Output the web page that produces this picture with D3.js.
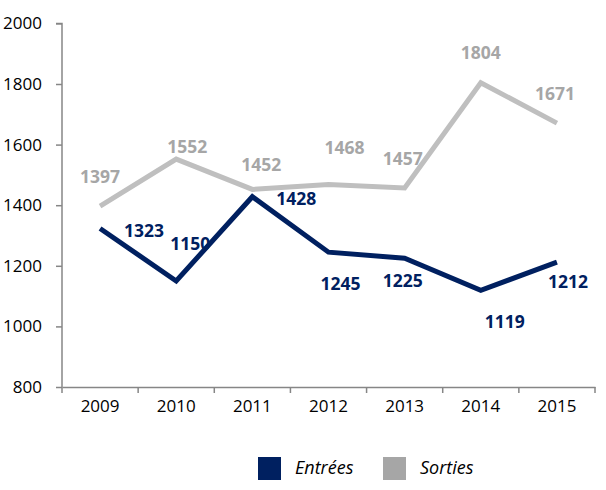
<!DOCTYPE html>
<html><head><meta charset="utf-8">
<script src="https://cdn.jsdelivr.net/npm/d3@7"></script>
<style>body{margin:0;background:#fff}svg{display:block}</style>
</head><body>
<svg id="c" width="606" height="490"></svg>
<script>
const years = ["2009","2010","2011","2012","2013","2014","2015"];
const entrees = [1323,1150,1428,1245,1225,1119,1212];
const sorties = [1397,1552,1452,1468,1457,1804,1671];
const yTicks = [800,1000,1200,1400,1600,1800,2000];
const seriesNames = ["Entrées","Sorties"];
// label offsets (dx, dy) relative to each point
const entLabelOff = [[44,1],[14,-38],[44,1],[12,31],[-2,22],[24,31],[11,19]];
const sorLabelOff = [[0,-30],[11,-13],[9,-25],[16,-38],[-2,-30],[0,-31],[-2,-30]];

const svg = d3.select("#c");
const font = "'Open Sans', sans-serif";
const x = d3.scaleBand().domain(years).range([62,595]);
const y = d3.scaleLinear().domain([800,2000]).range([387,23.4]);
const axisCol = "#868686";

const gy = svg.append("g").attr("transform","translate(62,0)")
  .call(d3.axisLeft(y).tickValues(yTicks).tickSize(6).tickPadding(14).tickFormat(d3.format("d")));
const gx = svg.append("g").attr("transform","translate(0,387)")
  .call(d3.axisBottom(x).tickSize(0).tickPadding(13));
gx.selectAll(".sep").data(d3.range(years.length+1)).enter().append("line")
  .attr("x1",i=>62+i*x.step()).attr("x2",i=>62+i*x.step()).attr("y1",0).attr("y2",6)
  .attr("stroke",axisCol).attr("stroke-width",1.5);
[gx,gy].forEach(g=>{
  g.select(".domain").attr("stroke",axisCol).attr("stroke-width",1.5);
  g.selectAll(".tick line").attr("stroke",axisCol).attr("stroke-width",1.5);
  g.selectAll("text").attr("fill","#000").style("font-family",font).style("font-size","17px");
});
gy.select(".domain").attr("d","M-6,23.4H0V387");

const line = d3.line().x((d,i)=>x(years[i])+x.bandwidth()/2).y(d=>y(d));
svg.append("path").datum(sorties).attr("d",line).attr("fill","none")
  .attr("stroke","#bfbfbf").attr("stroke-width",5).attr("stroke-linejoin","miter");
svg.append("path").datum(entrees).attr("d",line).attr("fill","none")
  .attr("stroke","#002060").attr("stroke-width",5).attr("stroke-linejoin","miter");

function labels(data, off, col){
  svg.append("g").selectAll("text").data(data).enter().append("text")
    .attr("x",(d,i)=>x(years[i])+x.bandwidth()/2+off[i][0])
    .attr("y",(d,i)=>y(d)+off[i][1])
    .attr("text-anchor","middle").attr("dominant-baseline","central")
    .attr("fill",col).style("font-family",font).style("font-weight","bold").style("font-size","17.5px")
    .text(d=>d);
}
labels(sorties, sorLabelOff, "#a6a6a6");
labels(entrees, entLabelOff, "#002060");

const leg = [{n:seriesNames[0],c:"#002060",x:258},{n:seriesNames[1],c:"#a6a6a6",x:383}];
leg.forEach(l=>{
  svg.append("rect").attr("x",l.x).attr("y",457).attr("width",23).attr("height",23).attr("fill",l.c);
  svg.append("text").attr("x",l.x+37).attr("y",474).text(l.n)
    .style("font-family",font).style("font-style","italic").style("font-size","18px").attr("fill","#000");
});
</script>
</body></html>
